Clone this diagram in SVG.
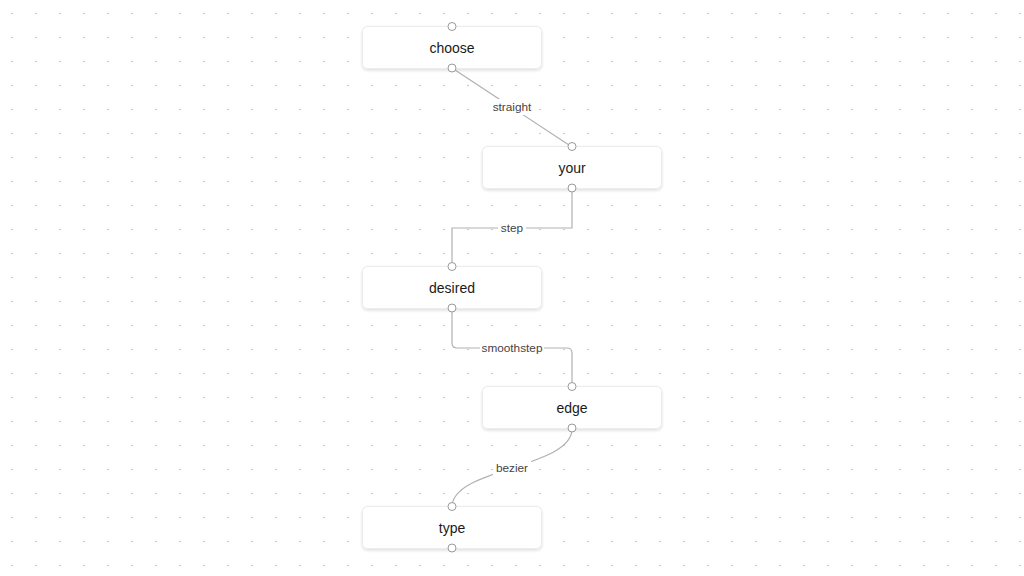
<svg xmlns="http://www.w3.org/2000/svg" width="1024" height="576" viewBox="0 0 1024 576">
<defs>
<pattern id="dots" x="0" y="1" width="24" height="24" patternUnits="userSpaceOnUse">
<circle cx="12" cy="12.5" r="0.8" fill="#b8b8b8"/>
</pattern>
<filter id="sh" x="-10%" y="-30%" width="120%" height="170%">
<feDropShadow dx="0" dy="1.5" stdDeviation="1.8" flood-color="#000" flood-opacity="0.13"/>
</filter>
</defs>
<style>
.node rect{fill:#fff;stroke:#ececec;stroke-width:1;filter:url(#sh)}
.node text{font-family:"Liberation Sans",Arial,sans-serif;font-size:14px;fill:#1a1a1a;text-anchor:middle;dominant-baseline:central}
.h{fill:#fff;stroke:#999;stroke-width:1}
.e{fill:none;stroke:#b1b1b1;stroke-width:1.2}
.lbg{fill:#fff}
.lt{font-family:"Liberation Sans",Arial,sans-serif;font-size:11.8px;fill:#444;text-anchor:middle;dominant-baseline:central}
</style>
<rect width="1024" height="576" fill="#fff"/>
<rect width="1024" height="576" fill="url(#dots)"/>
<g id="connectors">
<path class="e" d="M452 68 L572 147"/>
<path class="e" d="M572 188 L572 228 L452 228 L452 267"/>
<path class="e" d="M452 308 L452 343 Q452 348 457 348 L567 348 Q572 348 572 353 L572 387"/>
<path class="e" d="M572 429 C572 468 452 468 452 507"/>
<rect class="lbg" x="489" y="99" width="46" height="16"/>
<text class="lt" x="512" y="107">straight</text>
<rect class="lbg" x="498" y="220" width="28" height="16"/>
<text class="lt" x="512" y="228">step</text>
<rect class="lbg" x="480" y="340" width="64" height="16"/>
<text class="lt" x="512" y="348">smoothstep</text>
<rect class="lbg" x="493" y="460" width="38" height="16"/>
<text class="lt" x="512" y="468">bezier</text>
</g>
<g id="node-choose" class="node">
<rect x="362.5" y="26.5" width="179" height="42" rx="5"/>
<text x="452" y="47.5">choose</text>
<circle class="h" cx="452" cy="26.5" r="4"/>
<circle class="h" cx="452" cy="68" r="4"/>
</g>
<g id="node-your" class="node">
<rect x="482.5" y="146.5" width="179" height="42" rx="5"/>
<text x="572" y="167.5">your</text>
<circle class="h" cx="572" cy="146.5" r="4"/>
<circle class="h" cx="572" cy="188" r="4"/>
</g>
<g id="node-desired" class="node">
<rect x="362.5" y="266.5" width="179" height="42" rx="5"/>
<text x="452" y="287.5">desired</text>
<circle class="h" cx="452" cy="266.5" r="4"/>
<circle class="h" cx="452" cy="308" r="4"/>
</g>
<g id="node-edge" class="node">
<rect x="482.5" y="386.5" width="179" height="42" rx="5"/>
<text x="572" y="407.5">edge</text>
<circle class="h" cx="572" cy="386.5" r="4"/>
<circle class="h" cx="572" cy="428" r="4"/>
</g>
<g id="node-type" class="node">
<rect x="362.5" y="506.5" width="179" height="42" rx="5"/>
<text x="452" y="527.5">type</text>
<circle class="h" cx="452" cy="506.5" r="4"/>
<circle class="h" cx="452" cy="548" r="4"/>
</g>
</svg>
